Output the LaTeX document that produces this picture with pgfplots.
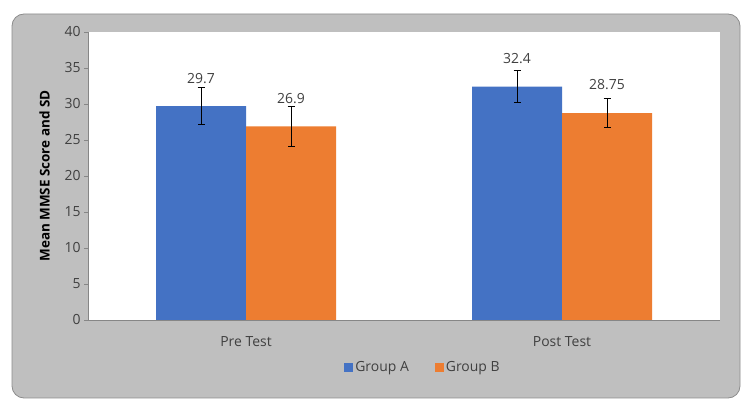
\documentclass[border=0pt]{standalone}
\usepackage{pgfplots}
\pgfplotsset{compat=1.18}
\usepackage{pgfplotstable}
\usepackage{fontspec}
\setmainfont{Open Sans}
\definecolor{grpA}{HTML}{4472C4}
\definecolor{grpB}{HTML}{ED7D31}
\definecolor{bggray}{HTML}{BFBFBF}
\definecolor{bordergray}{HTML}{8C8C8C}
\definecolor{txt}{HTML}{404040}
\definecolor{axgray}{HTML}{868686}

% category, mean, SD, label
\pgfplotstableread{
x y err lab
0 29.7 2.6 29.7
1 32.4 2.25 32.4
}\groupA
\pgfplotstableread{
x y err lab
0 26.9 2.8 26.9
1 28.75 2.05 28.75
}\groupB

\begin{document}
\begin{tikzpicture}
\path (0bp,0bp) rectangle (750bp,412bp);
\draw[fill=bggray, draw=bordergray, line width=0.8bp, rounded corners=12bp] (12bp,14bp) rectangle (740bp,398bp);
\begin{axis}[
  at={(88bp,92bp)}, anchor=south west,
  width=632bp, height=288bp, scale only axis,
  axis background/.style={fill=white},
  ybar, bar width=90bp,
  ymin=0, ymax=40, ytick={0,5,...,40},
  xmin=-0.5, xmax=1.5,
  xtick={0,1}, xticklabels={Pre Test, Post Test},
  extra x ticks={0.5}, extra x tick labels={},
  extra x tick style={major tick length=4bp, tick style={axgray}},
  axis lines*=left,
  axis line style={axgray, line width=0.8bp},
  x tick style={draw=none},
  y tick style={axgray, line width=0.8bp},
  tick align=outside, major tick length=4bp,
  /pgf/number format/assume math mode=true,
  ticklabel style={font=\fontsize{14}{16}\selectfont, text=txt},
  xticklabel style={yshift=-9bp},
  ylabel={Mean MMSE Score and SD},
  ylabel shift=8bp,
  ylabel style={font=\fontsize{13.5}{15}\selectfont\bfseries, text=black},
  point meta=explicit symbolic,
  nodes near coords,
  every node near coord/.append style={anchor=center, yshift=28bp, font=\fontsize{14}{16}\selectfont, text=txt},
  legend style={at={(0.53,-0.165)}, anchor=center, draw=none, fill=none,
    legend columns=2, font=\fontsize{14}{16}\selectfont, text=txt,
    /tikz/every even column/.append style={column sep=24bp}},
  legend image code/.code={\fill[#1] (0bp,-4.5bp) rectangle (9bp,4.5bp);},
  clip=false,
]
\addplot[fill=grpA, draw=none, bar shift=-45bp,
  error bars/.cd, y dir=both, y explicit,
  error bar style={black, line width=1bp},
  error mark options={rotate=90, mark size=3.5bp, black, line width=1bp}]
  table[x=x, y=y, y error=err, meta=lab] {\groupA};
\addlegendentry{Group A}
\addplot[fill=grpB, draw=none, bar shift=45bp,
  error bars/.cd, y dir=both, y explicit,
  error bar style={black, line width=1bp},
  error mark options={rotate=90, mark size=3.5bp, black, line width=1bp}]
  table[x=x, y=y, y error=err, meta=lab] {\groupB};
\addlegendentry{Group B}
\end{axis}
\end{tikzpicture}
\end{document}
